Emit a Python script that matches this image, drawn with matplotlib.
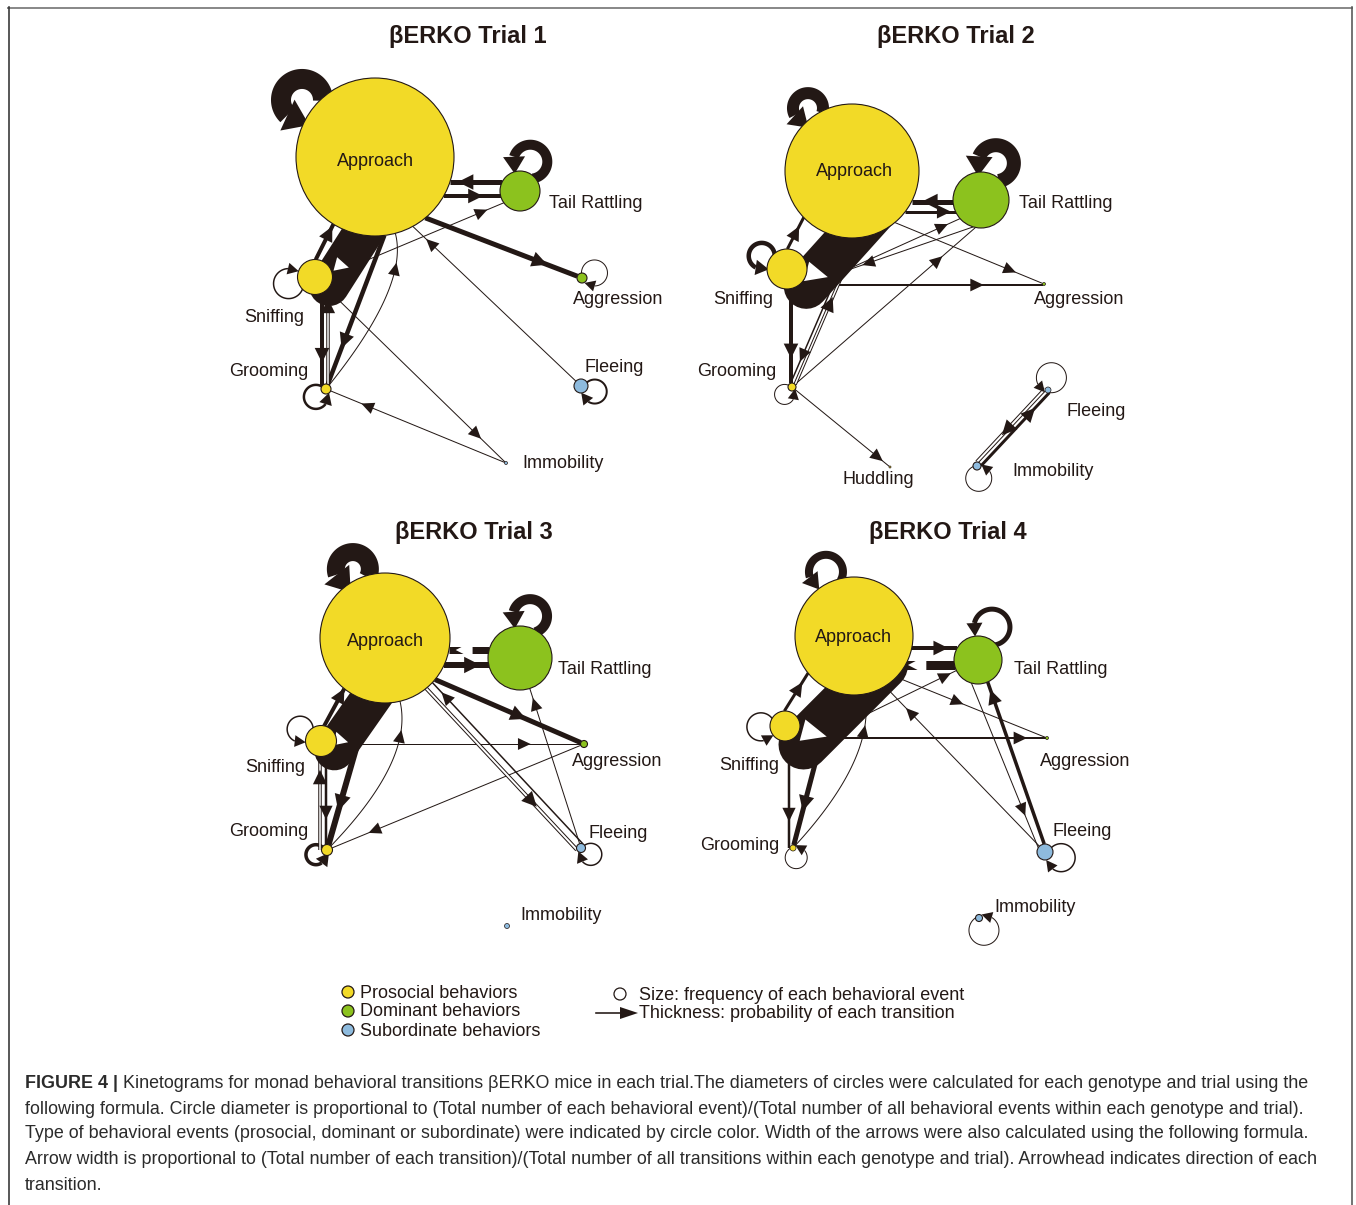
import numpy as np
import matplotlib
matplotlib.use("Agg")
import matplotlib.pyplot as plt
from matplotlib.patches import Circle, Polygon
from matplotlib import font_manager as fm

# ------------------------------------------------------------------ data
BEHAVIORS = ['Approach', 'Tail Rattling', 'Sniffing', 'Grooming',
             'Aggression', 'Fleeing', 'Immobility', 'Huddling']
BEHAVIOR_CLASS = ['prosocial', 'dominant', 'prosocial', 'prosocial',
                  'dominant', 'subordinate', 'subordinate', 'prosocial']
CLASS_COLORS = {'prosocial': '#F2DA27', 'dominant': '#8CC21E', 'subordinate': '#8EBBDE'}
LEGEND_CLASSES = ['prosocial', 'dominant', 'subordinate']
LEGEND_LABELS = ['Prosocial behaviors', 'Dominant behaviors', 'Subordinate behaviors']
LEGEND_SIZE_TEXT = 'Size: frequency of each behavioral event'
LEGEND_ARROW_TEXT = 'Thickness: probability of each transition'
TRIAL_TITLES = ['\u03b2ERKO Trial 1', '\u03b2ERKO Trial 2', '\u03b2ERKO Trial 3', '\u03b2ERKO Trial 4']

# circle diameters (px), order as BEHAVIORS
DIAM_T1 = [158, 40, 35, 10, 10, 14, 3, 0]
DIAM_T2 = [134, 56, 40, 8, 3, 6, 8, 2]
DIAM_T3 = [130, 64, 31, 11, 7, 9, 5, 0]
DIAM_T4 = [118, 48, 30, 6, 3, 16, 7, 0]

# transitions: (from, to, arrow width px)
TRANS_T1 = [
    ('Approach', 'Approach', 20), ('Tail Rattling', 'Tail Rattling', 10),
    ('Sniffing', 'Sniffing', 1.5), ('Grooming', 'Grooming', 2.5),
    ('Aggression', 'Aggression', 1), ('Fleeing', 'Fleeing', 2),
    ('Tail Rattling', 'Approach', 5), ('Approach', 'Tail Rattling', 4),
    ('Sniffing', 'Tail Rattling', 1), ('Approach', 'Aggression', 5),
    ('Fleeing', 'Approach', 1), ('Approach', 'Sniffing', 40),
    ('Sniffing', 'Approach', 4), ('Sniffing', 'Grooming', 4),
    ('Grooming', 'Sniffing', 3.5), ('Approach', 'Grooming', 4.5),
    ('Grooming', 'Approach', 1), ('Sniffing', 'Immobility', 1),
    ('Immobility', 'Grooming', 1),
]
TRANS_T2 = [
    ('Approach', 'Approach', 12), ('Tail Rattling', 'Tail Rattling', 14),
    ('Sniffing', 'Sniffing', 4.5), ('Grooming', 'Grooming', 1),
    ('Fleeing', 'Fleeing', 1), ('Immobility', 'Immobility', 1),
    ('Tail Rattling', 'Approach', 5), ('Approach', 'Tail Rattling', 3),
    ('Approach', 'Aggression', 1), ('Sniffing', 'Aggression', 2),
    ('Approach', 'Sniffing', 45), ('Sniffing', 'Approach', 3),
    ('Sniffing', 'Grooming', 4), ('Grooming', 'Approach', 3.5),
    ('Approach', 'Grooming', 1.5), ('Sniffing', 'Tail Rattling', 1),
    ('Tail Rattling', 'Sniffing', 1), ('Grooming', 'Tail Rattling', 1),
    ('Grooming', 'Huddling', 1), ('Immobility', 'Fleeing', 3),
    ('Fleeing', 'Immobility', 4),
]
TRANS_T3 = [
    ('Approach', 'Approach', 18), ('Tail Rattling', 'Tail Rattling', 10),
    ('Sniffing', 'Sniffing', 1.5), ('Grooming', 'Grooming', 3.5),
    ('Fleeing', 'Fleeing', 1.5), ('Tail Rattling', 'Approach', 7),
    ('Approach', 'Tail Rattling', 6), ('Approach', 'Aggression', 5),
    ('Sniffing', 'Aggression', 1), ('Aggression', 'Grooming', 1),
    ('Approach', 'Fleeing', 4), ('Fleeing', 'Approach', 1.5),
    ('Fleeing', 'Tail Rattling', 1), ('Approach', 'Sniffing', 40),
    ('Sniffing', 'Approach', 4), ('Grooming', 'Sniffing', 3.5),
    ('Sniffing', 'Grooming', 2.5), ('Approach', 'Grooming', 6),
    ('Grooming', 'Approach', 1),
]
TRANS_T4 = [
    ('Approach', 'Approach', 8), ('Tail Rattling', 'Tail Rattling', 5),
    ('Sniffing', 'Sniffing', 1.5), ('Grooming', 'Grooming', 1),
    ('Fleeing', 'Fleeing', 1.5), ('Immobility', 'Immobility', 1),
    ('Approach', 'Tail Rattling', 4), ('Tail Rattling', 'Approach', 9),
    ('Approach', 'Aggression', 1), ('Sniffing', 'Aggression', 2),
    ('Sniffing', 'Tail Rattling', 1), ('Fleeing', 'Approach', 1),
    ('Tail Rattling', 'Fleeing', 1), ('Fleeing', 'Tail Rattling', 3.5),
    ('Approach', 'Sniffing', 50), ('Sniffing', 'Approach', 3),
    ('Sniffing', 'Grooming', 2.5), ('Approach', 'Grooming', 5),
    ('Grooming', 'Approach', 1),
]

CAPTION_BOLD = 'FIGURE 4 |'
CAPTION_LINES = [
    ' Kinetograms for monad behavioral transitions \u03b2ERKO mice in each trial.The diameters of circles were calculated for each genotype and trial using the',
    'following formula. Circle diameter is proportional to (Total number of each behavioral event)/(Total number of all behavioral events within each genotype and trial).',
    'Type of behavioral events (prosocial, dominant or subordinate) were indicated by circle color. Width of the arrows were also calculated using the following formula.',
    'Arrow width is proportional to (Total number of each transition)/(Total number of all transitions within each genotype and trial). Arrowhead indicates direction of each',
    'transition.',
]

# ------------------------------------------------------------------ layout
NODE_XY = [
    {'Approach': (375, 157), 'Tail Rattling': (520, 191), 'Sniffing': (315, 277),
     'Grooming': (326, 389), 'Aggression': (582, 278), 'Fleeing': (581, 386),
     'Immobility': (506, 463)},
    {'Approach': (852, 171), 'Tail Rattling': (981, 200), 'Sniffing': (787, 269),
     'Grooming': (792, 387), 'Aggression': (1044, 284), 'Fleeing': (1048, 390),
     'Immobility': (977, 466), 'Huddling': (890, 467)},
    {'Approach': (385, 638), 'Tail Rattling': (520, 658), 'Sniffing': (321, 741),
     'Grooming': (327, 850), 'Aggression': (584, 744), 'Fleeing': (581, 848),
     'Immobility': (507, 926)},
    {'Approach': (854, 636), 'Tail Rattling': (978, 660), 'Sniffing': (785, 726),
     'Grooming': (793, 848), 'Aggression': (1047, 738), 'Fleeing': (1045, 852),
     'Immobility': (979, 918)},
]
LABEL_XY = [
    {'Approach': (375, 162, 'center'), 'Tail Rattling': (549, 204, 'left'),
     'Aggression': (573, 300, 'left'), 'Sniffing': (244, 317, 'left'),
     'Grooming': (229, 372, 'left'), 'Fleeing': (584, 368, 'left'),
     'Immobility': (522, 463, 'left')},
    {'Approach': (854, 172, 'center'), 'Tail Rattling': (1019, 204, 'left'),
     'Aggression': (1034, 300, 'left'), 'Sniffing': (713, 300, 'left'),
     'Grooming': (697, 372, 'left'), 'Huddling': (843, 480, 'left'),
     'Fleeing': (1066, 412, 'left'), 'Immobility': (1012, 471, 'left')},
    {'Approach': (385, 641, 'center'), 'Tail Rattling': (558, 669, 'left'),
     'Aggression': (572, 761, 'left'), 'Sniffing': (245, 767, 'left'),
     'Grooming': (229, 831, 'left'), 'Fleeing': (588, 834, 'left'),
     'Immobility': (520, 915, 'left')},
    {'Approach': (853, 638, 'center'), 'Tail Rattling': (1014, 670, 'left'),
     'Aggression': (1040, 761, 'left'), 'Sniffing': (719, 766, 'left'),
     'Grooming': (700, 846, 'left'), 'Fleeing': (1052, 831, 'left'),
     'Immobility': (994, 908, 'left')},
]
TITLE_XY = [(468, 37), (956, 37), (474, 532), (948, 532)]

WH = dict(head_fc='white')
ROUTES = [
    {  # trial 1
        ('Approach', 'Approach'): dict(theta=-142, rho=21, turn=-1),
        ('Tail Rattling', 'Tail Rattling'): dict(theta=-70.6, rho=17, turn=-1),
        ('Sniffing', 'Sniffing'): dict(theta=166, rho=15, turn=1),
        ('Grooming', 'Grooming'): dict(theta=142, rho=12, turn=-1),
        ('Aggression', 'Aggression'): dict(theta=-22, rho=13, turn=1),
        ('Fleeing', 'Fleeing'): dict(theta=22, rho=12, turn=1),
        ('Tail Rattling', 'Approach'): dict(angle=0, shift=(0, 8), pos=0.7),
        ('Approach', 'Tail Rattling'): dict(angle=0, shift=(0, 22), pos=0.56),
        ('Sniffing', 'Tail Rattling'): dict(shift=(0, 5), pos=0.87),
        ('Approach', 'Aggression'): dict(angle=21, anchor='t', pos=0.755),
        ('Fleeing', 'Approach'): dict(angle=43.5, anchor='s', pos=0.89),
        ('Approach', 'Sniffing'): dict(style='band', angle=122.5, anchor='t', shift=(18, 3),
                                       pos=0.82, head=(14, 7), head_angle=15, **WH),
        ('Sniffing', 'Approach'): dict(shift=(-8, 0), pos=0.75),
        ('Sniffing', 'Grooming'): dict(angle=90, anchor='t', shift=(-4, 0), pos=0.67),
        ('Grooming', 'Sniffing'): dict(style='outline', angle=90, anchor='s', shift=(2, 0), pos=0.82),
        ('Approach', 'Grooming'): dict(angle=110.8, anchor='t', pos=0.71),
        ('Grooming', 'Approach'): dict(style='curve', bend=60, pos=0.7),
        ('Sniffing', 'Immobility'): dict(pos=0.84),
        ('Immobility', 'Grooming'): dict(pos=0.79),
    },
    {  # trial 2
        ('Approach', 'Approach'): dict(theta=-125, rho=15, turn=-1),
        ('Tail Rattling', 'Tail Rattling'): dict(theta=-68, rho=18, turn=-1),
        ('Sniffing', 'Sniffing'): dict(theta=-152.6, rho=13, turn=-1),
        ('Grooming', 'Grooming'): dict(theta=135, rho=10, turn=-1),
        ('Fleeing', 'Fleeing'): dict(theta=-74.5, rho=15, turn=-1),
        ('Immobility', 'Immobility'): dict(theta=82, rho=13, turn=-1),
        ('Tail Rattling', 'Approach'): dict(angle=0, shift=(0, 16), pos=0.56),
        ('Approach', 'Tail Rattling'): dict(angle=0, shift=(0, 26.2), pos=0.77),
        ('Approach', 'Aggression'): dict(angle=22.4, anchor='t', pos=0.78),
        ('Sniffing', 'Aggression'): dict(angle=0, anchor='t', shift=(0, 1), pos=0.73),
        ('Approach', 'Sniffing'): dict(style='band', angle=132, anchor='t', shift=(25, 11),
                                       pos=0.86, head=(22, 10), head_angle=15, **WH),
        ('Sniffing', 'Approach'): dict(angle=-62.6, anchor='s', shift=(-10, 0), pos=0.52),
        ('Sniffing', 'Grooming'): dict(angle=90, anchor='t', shift=(-1, 0), pos=0.66),
        ('Grooming', 'Approach'): dict(style='outline', angle=-66.7, anchor='s', shift=(2, 0), pos=0.55),
        ('Approach', 'Grooming'): dict(angle=-66.7, anchor='t', shift=(-3, 0), pos=0.81),
        ('Sniffing', 'Tail Rattling'): dict(angle=-24.3, anchor='t', shift=(-24, 20), pos=0.89),
        ('Tail Rattling', 'Sniffing'): dict(angle=161, anchor='s', shift=(-11, 28), pos=0.585),
        ('Grooming', 'Tail Rattling'): dict(angle=-41, anchor='s', pos=0.79),
        ('Grooming', 'Huddling'): dict(pos=0.88),
        ('Immobility', 'Fleeing'): dict(shift=(2, 2), pos=0.72),
        ('Fleeing', 'Immobility'): dict(style='outline', shift=(-2, -2), pos=0.56),
    },
    {  # trial 3
        ('Approach', 'Approach'): dict(theta=-115, rho=17, turn=-1),
        ('Tail Rattling', 'Tail Rattling'): dict(theta=-76.5, rho=17, turn=-1),
        ('Sniffing', 'Sniffing'): dict(theta=-150.5, rho=13, turn=-1),
        ('Grooming', 'Grooming'): dict(theta=157, rho=10, turn=-1),
        ('Fleeing', 'Fleeing'): dict(theta=33, rho=11, turn=1),
        ('Tail Rattling', 'Approach'): dict(angle=0, shift=(0, 2), pos=0.62, **WH),
        ('Approach', 'Tail Rattling'): dict(angle=0, shift=(0, 17), pos=0.63),
        ('Approach', 'Aggression'): dict(angle=23.4, anchor='t', pos=0.575),
        ('Sniffing', 'Aggression'): dict(angle=0, anchor='t', pos=0.77),
        ('Aggression', 'Grooming'): dict(pos=0.83),
        ('Approach', 'Fleeing'): dict(style='outline', shift=(-3, 3), pos=0.70),
        ('Fleeing', 'Approach'): dict(shift=(3, -3), pos=0.91),
        ('Fleeing', 'Tail Rattling'): dict(pos=0.9),
        ('Approach', 'Sniffing'): dict(style='band', angle=125, anchor='t', shift=(22, -3),
                                       pos=0.9, head=(14, 7), head_angle=15, **WH),
        ('Sniffing', 'Approach'): dict(angle=-61.6, anchor='s', shift=(-5, 0), pos=0.83),
        ('Grooming', 'Sniffing'): dict(style='outline', angle=90, anchor='t', shift=(-1, 0), pos=0.78),
        ('Sniffing', 'Grooming'): dict(angle=90, anchor='t', shift=(-1, 0), pos=0.64),
        ('Approach', 'Grooming'): dict(angle=106, anchor='t', pos=0.71),
        ('Grooming', 'Approach'): dict(style='curve', bend=60, pos=0.72),
    },
    {  # trial 4
        ('Approach', 'Approach'): dict(theta=-113.6, rho=17, turn=-1),
        ('Tail Rattling', 'Tail Rattling'): dict(theta=-67, rho=18, turn=-1),
        ('Sniffing', 'Sniffing'): dict(theta=178, rho=14, turn=-1),
        ('Grooming', 'Grooming'): dict(theta=71.6, rho=11, turn=-1),
        ('Fleeing', 'Fleeing'): dict(theta=19.4, rho=14, turn=1),
        ('Immobility', 'Immobility'): dict(theta=68, rho=15, turn=-1),
        ('Approach', 'Tail Rattling'): dict(angle=0, pos=0.64),
        ('Tail Rattling', 'Approach'): dict(angle=0, shift=(0, 17), pos=0.76, **WH),
        ('Approach', 'Aggression'): dict(angle=22, anchor='t', pos=0.41),
        ('Sniffing', 'Aggression'): dict(angle=0, anchor='t', pos=0.9),
        ('Sniffing', 'Tail Rattling'): dict(angle=154, anchor='t', pos=0.93),
        ('Fleeing', 'Approach'): dict(angle=46, anchor='s', pos=0.835),
        ('Tail Rattling', 'Fleeing'): dict(angle=67.9, anchor='t', shift=(-5, 0), pos=0.77),
        ('Fleeing', 'Tail Rattling'): dict(shift=(2, 0), pos=0.91),
        ('Approach', 'Sniffing'): dict(style='band', angle=135, anchor='t', shift=(25, 12),
                                       pos=0.86, head=(25, 11), head_angle=15, **WH),
        ('Sniffing', 'Approach'): dict(angle=-58, anchor='s', shift=(-10, 0), pos=0.6),
        ('Sniffing', 'Grooming'): dict(angle=90, anchor='t', shift=(-4, 0), pos=0.69),
        ('Approach', 'Grooming'): dict(angle=104.7, anchor='t', pos=0.73),
        ('Grooming', 'Approach'): dict(style='curve', bend=55, pos=0.72),
    },
]

# ------------------------------------------------------------------ drawing
W_PX, H_PX = 1356, 1205
PT = 0.72          # points per pixel at dpi 100
INK = '#231815'
FONT = 'Liberation Sans'

fig = plt.figure(figsize=(W_PX / 100, H_PX / 100), dpi=100)
ax = fig.add_axes([0, 0, 1, 1])
ax.set_xlim(0, W_PX)
ax.set_ylim(H_PX, 0)
ax.axis('off')


def unit(v):
    n = np.hypot(v[0], v[1])
    return v / n if n > 0 else v


def head(tip, u, L, H, fc, z):
    u = unit(np.asarray(u, float))
    n = np.array([-u[1], u[0]])
    base = tip - L * u
    ax.add_patch(Polygon([tip, base + H * n, base - H * n], closed=True,
                         fc=fc, ec='none', zorder=z))


def head_dims(w):
    return 12 + 0.7 * w, 5.5 + 0.45 * w


def draw_loop(c, R, w, theta, rho, turn, k=0.65):
    th = np.radians(theta)
    D = R + k * rho
    C = c + D * np.array([np.cos(th), np.sin(th)])
    back = th + np.pi
    cosA = (D * D + rho * rho - R * R) / (2 * D * rho)
    A = np.arccos(np.clip(cosA, -1, 1))
    L, H = 10 + 0.7 * w, 5 + 0.6 * w
    trim = min(L / rho, 0.9)
    ext = 0.15
    if turn < 0:
        a0 = back - (A - ext)
        a_end = back - (2 * np.pi - A)
        a1 = a_end + trim
    else:
        a0 = back + (A - ext)
        a_end = back + (2 * np.pi - A)
        a1 = a_end - trim
    ph = np.linspace(a0, a1, 120)
    ax.plot(C[0] + rho * np.cos(ph), C[1] + rho * np.sin(ph), color=INK,
            lw=w * PT, solid_capstyle='butt', zorder=2)
    base = C + rho * np.array([np.cos(a1), np.sin(a1)])
    tip = C + rho * np.array([np.cos(a_end), np.sin(a_end)])
    tan = turn * np.array([-np.sin(a1), np.cos(a1)])
    u = unit(unit(tip - base) + 0.35 * tan)
    head(base + L * u, u, L, H, INK, 3)


def line_geom(cs, rs, ct, rt, angle=None, anchor='m', shift=(0, 0)):
    if angle is None:
        u = unit(ct - cs)
    else:
        a = np.radians(angle)
        u = np.array([np.cos(a), np.sin(a)])
        if np.dot(u, ct - cs) < 0:
            u = -u
    base = {'m': (cs + ct) / 2, 's': cs, 't': ct}[anchor] + np.asarray(shift, float)

    def par(c, r, exit_):
        sc = np.dot(c - base, u)
        d2 = np.dot(c - base, c - base) - sc * sc
        h = np.sqrt(max(r * r - d2, 0.0))
        return sc + h if exit_ else sc - h, sc
    s0, sc0 = par(cs, rs, True)
    s1, sc1 = par(ct, rt, False)
    return base, u, s0, s1, sc0, sc1


def draw_edge(cs, rs, ct, rt, w, opt):
    style = opt.get('style', 'line')
    pos = opt.get('pos', 0.75)
    fc = opt.get('head_fc', INK)
    if style == 'curve':
        u = unit(ct - cs)
        n = np.array([-u[1], u[0]])
        ctrl = (cs + ct) / 2 + opt['bend'] * n
        p0 = cs + rs * unit(ctrl - cs)
        p2 = ct + rt * unit(ctrl - ct)
        t = np.linspace(0, 1, 100)[:, None]
        pts = (1 - t) ** 2 * p0 + 2 * t * (1 - t) * ctrl + t ** 2 * p2
        ax.plot(pts[:, 0], pts[:, 1], color=INK, lw=w * PT, zorder=2)
        tp = pos
        pt = (1 - tp) ** 2 * p0 + 2 * tp * (1 - tp) * ctrl + tp ** 2 * p2
        tg = unit(2 * (1 - tp) * (ctrl - p0) + 2 * tp * (p2 - ctrl))
        L, H = head_dims(w)
        head(pt + L / 2 * tg, tg, L, H, fc, 3)
        return
    base, u, s0, s1, sc0, sc1 = line_geom(cs, rs, ct, rt, opt.get('angle'),
                                          opt.get('anchor', 'm'), opt.get('shift', (0, 0)))
    if style == 'band':
        s0, s1 = sc0, sc1
    p0, p1 = base + s0 * u, base + s1 * u
    if style == 'band':
        ax.plot([p0[0], p1[0]], [p0[1], p1[1]], color=INK, lw=w * PT,
                solid_capstyle='round', zorder=4)
    else:
        ax.plot([p0[0], p1[0]], [p0[1], p1[1]], color=INK, lw=w * PT,
                solid_capstyle='butt', zorder=2)
        if style == 'outline':
            ax.plot([p0[0], p1[0]], [p0[1], p1[1]], color='white',
                    lw=max(w - 2, 1) * PT, solid_capstyle='butt', zorder=2.05)
    pm = p0 + pos * (p1 - p0)
    L, H = opt.get('head', head_dims(w))
    hu = u
    if 'head_angle' in opt:
        a = np.radians(opt['head_angle'])
        hu = np.array([np.cos(a), np.sin(a)])
    head(pm + L / 2 * hu, hu, L, H, fc, 5 if style == 'band' else 3)


def draw_trial(idx, diam, trans):
    xy = NODE_XY[idx]
    nodes = {}
    for name, d in zip(BEHAVIORS, diam):
        if d > 0 and name in xy:
            nodes[name] = (np.array(xy[name], float), d / 2.0)
    routes = ROUTES[idx]
    for s, t, w in trans:
        cs, rs = nodes[s]
        ct, rt = nodes[t]
        opt = routes.get((s, t), {})
        if s == t:
            draw_loop(cs, rs, w, opt['theta'], opt['rho'], opt['turn'])
        else:
            draw_edge(cs, rs, ct, rt, w, opt)
    for name, d, cls in zip(BEHAVIORS, diam, BEHAVIOR_CLASS):
        if name not in nodes:
            continue
        c, r = nodes[name]
        ax.add_patch(Circle(c, r, fc=CLASS_COLORS[cls], ec=INK,
                            lw=0.8 if r > 3 else 0.5, zorder=6))
        lx, ly, ha = LABEL_XY[idx][name]
        ax.text(lx, ly, name, ha=ha, va='center', fontsize=13, family=FONT,
                color=INK, zorder=8)
    tx, ty = TITLE_XY[idx]
    ax.text(tx, ty, TRIAL_TITLES[idx], ha='center', va='center', fontsize=17,
            fontweight='bold', family=FONT, color=INK, zorder=8)


for i, (dm, tr) in enumerate(zip([DIAM_T1, DIAM_T2, DIAM_T3, DIAM_T4],
                                 [TRANS_T1, TRANS_T2, TRANS_T3, TRANS_T4])):
    draw_trial(i, dm, tr)

# ------------------------------------------------------------------ legend
for k, (cls, lab) in enumerate(zip(LEGEND_CLASSES, LEGEND_LABELS)):
    y = 992 + 19 * k
    ax.add_patch(Circle((348, y), 6, fc=CLASS_COLORS[cls], ec=INK, lw=0.9, zorder=6))
    ax.text(360, y + 1, lab, ha='left', va='center', fontsize=13, family=FONT, color=INK)
ax.add_patch(Circle((620, 994), 6, fc='white', ec=INK, lw=0.9, zorder=6))
ax.text(639, 995, LEGEND_SIZE_TEXT, ha='left', va='center', fontsize=13, family=FONT, color=INK)
ax.plot([596, 622], [1013, 1013], color=INK, lw=1.6 * PT, zorder=3)
head(np.array([638.0, 1013.0]), (1, 0), 18, 6, INK, 4)
ax.text(639, 1014, LEGEND_ARROW_TEXT, ha='left', va='center', fontsize=13, family=FONT, color=INK)

# ------------------------------------------------------------------ frame
ax.plot([8, 1352], [7.5, 7.5], color='#8a8a8a', lw=2 * PT, zorder=1)
ax.plot([8.5, 8.5], [7, H_PX], color='#333333', lw=1.6 * PT, zorder=1)
ax.plot([1352, 1352], [7, H_PX], color='#555555', lw=1.6 * PT, zorder=1)

# ------------------------------------------------------------------ caption
names = {f.name for f in fm.fontManager.ttflist}
CAP_FONT = next((f for f in ['Liberation Sans Narrow', 'Arial Narrow'] if f in names), FONT)
renderer = fig.canvas.get_renderer()
probe = ax.text(0, 0, CAPTION_LINES[3], fontsize=10, family=CAP_FONT)
wpx = probe.get_window_extent(renderer).width
probe.remove()
cap_fs = 10 * (1323 - 25) / wpx
CAP_COLOR = '#2b2b2b'
ys = [1084, 1109, 1134, 1159, 1185]
b = ax.text(25, ys[0], CAPTION_BOLD, ha='left', va='center', fontsize=cap_fs,
            family=CAP_FONT, fontweight='bold', color=CAP_COLOR)
bw = b.get_window_extent(renderer).width
ax.text(25 + bw, ys[0], CAPTION_LINES[0], ha='left', va='center', fontsize=cap_fs,
        family=CAP_FONT, color=CAP_COLOR)
for line, y in zip(CAPTION_LINES[1:], ys[1:]):
    ax.text(25, y, line, ha='left', va='center', fontsize=cap_fs, family=CAP_FONT,
            color=CAP_COLOR)

fig.savefig('out.png', dpi=100, facecolor='white')
